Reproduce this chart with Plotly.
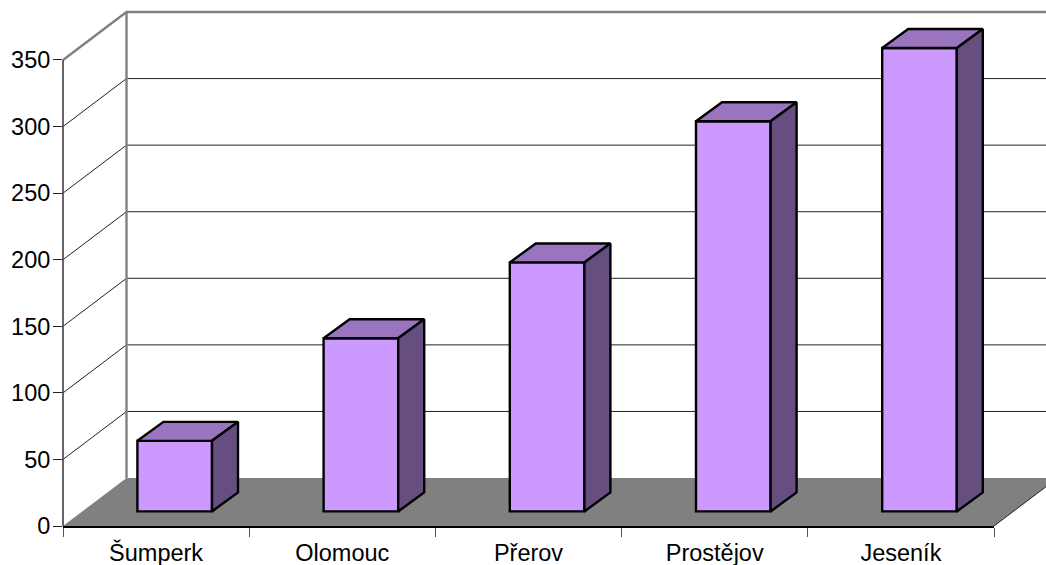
import plotly.graph_objects as go

categories = ["Šumperk", "Olomouc", "Přerov", "Prostějov", "Jeseník"]
values = [53, 130, 187, 293, 348]
y_ticks = [0, 50, 100, 150, 200, 250, 300, 350]

# pixel geometry of the oblique projection
W, H = 1046, 565
L, R_EDGE, T, B = 63, 994, 10, 526.3
PX = (R_EDGE - L) / 5
PY = (526.3 - 60) / 350
Y_MAX = (B - T) / PY
WALL_DX, WALL_DY = 63.5 / PX, 48 / PY
BAR_W = 74.6 / PX
BAR_SHIFT_X = 18.6 / PX
BAR_BASE = 14.6 / PY
BAR_DX, BAR_DY = 26 / PX, 19 / PY
RIGHT = 5 + WALL_DX


def paper_path(xs, ys, close=False):
    pts = [f"{x / 5:.5f},{y / Y_MAX:.5f}" for x, y in zip(xs, ys)]
    return "M" + "L".join(pts) + ("Z" if close else "")


def wall_shape(xs, ys, color, width, fill=None):
    shape = dict(type="path", xref="paper", yref="paper", layer="below",
                 path=paper_path(xs, ys, close=fill is not None),
                 line=dict(color=color, width=width))
    if fill is not None:
        shape["fillcolor"] = fill
    return shape


def poly(xs, ys, color):
    return go.Scatter(x=xs, y=ys, mode="lines", fill="toself", fillcolor=color,
                      line=dict(color="black", width=2.4, simplify=False),
                      cliponaxis=False, hoverinfo="skip", showlegend=False)


shapes = [wall_shape([0, WALL_DX, RIGHT, 5], [0, WALL_DY, WALL_DY, 0], "#808080", 0, fill="#808080")]
for v in y_ticks[1:-1]:
    shapes.append(wall_shape([0, WALL_DX, RIGHT], [v, v + WALL_DY, v + WALL_DY], "#222222", 1))
shapes.append(wall_shape([5, RIGHT], [0, WALL_DY], "#222222", 1))
shapes.append(wall_shape([WALL_DX, WALL_DX], [WALL_DY, 350 + WALL_DY], "#808080", 2.4))
shapes.append(wall_shape([0, WALL_DX, RIGHT], [350, 350 + WALL_DY, 350 + WALL_DY], "#808080", 2.4))
shapes.append(wall_shape([0, 0], [0, 350], "#333333", 1.5))

fig = go.Figure()

centers = [i + 0.5 + BAR_SHIFT_X for i in range(len(categories))]
fig.add_trace(go.Bar(x=centers, y=values, base=BAR_BASE, width=BAR_W,
                     marker=dict(color="#CC99FF", line=dict(color="black", width=2.4)),
                     cliponaxis=False, showlegend=False, text=categories,
                     hovertemplate="%{text}: %{y}<extra></extra>", textposition="none"))
for c, v in zip(centers, values):
    x0, x1 = c - BAR_W / 2, c + BAR_W / 2
    y0, y1 = BAR_BASE, BAR_BASE + v
    fig.add_trace(poly([x0, x0 + BAR_DX, x1 + BAR_DX, x1, x0],
                       [y1, y1 + BAR_DY, y1 + BAR_DY, y1, y1], "#9A74BF"))
    fig.add_trace(poly([x1, x1 + BAR_DX, x1 + BAR_DX, x1, x1],
                       [y1, y1 + BAR_DY, y0 + BAR_DY, y0, y1], "#664E80"))

font = dict(family="Liberation Sans, Arial, sans-serif", size=23.5, color="black")
fig.update_layout(
    width=W, height=H, autosize=False,
    margin=dict(l=L, r=W - R_EDGE, t=T, b=H - B, pad=0),
    paper_bgcolor="white", plot_bgcolor="rgba(0,0,0,0)", showlegend=False,
    shapes=shapes,
    xaxis=dict(range=[0, 5], tickmode="array", tickvals=[i + 0.5 for i in range(5)], ticktext=categories,
               ticks="", showgrid=False, zeroline=False, showline=True, linecolor="black", linewidth=1.5,
               tickfont=font, ticklabelstandoff=5, automargin=False,
               minor=dict(tickmode="array", tickvals=list(range(6)), ticks="outside", ticklen=9,
                          tickcolor="#555555", tickwidth=1, showgrid=False)),
    yaxis=dict(range=[0, Y_MAX], tickmode="array", tickvals=y_ticks, ticks="outside", ticklen=9,
               tickcolor="#222222", tickwidth=1, showgrid=False, zeroline=False, showline=False,
               tickfont=font, automargin=False, ticklabelstandoff=-2),
)

fig.write_html("out.html", config=dict(displayModeBar=False),
               post_script="document.body.style.margin='0';document.body.style.overflow='hidden';")
